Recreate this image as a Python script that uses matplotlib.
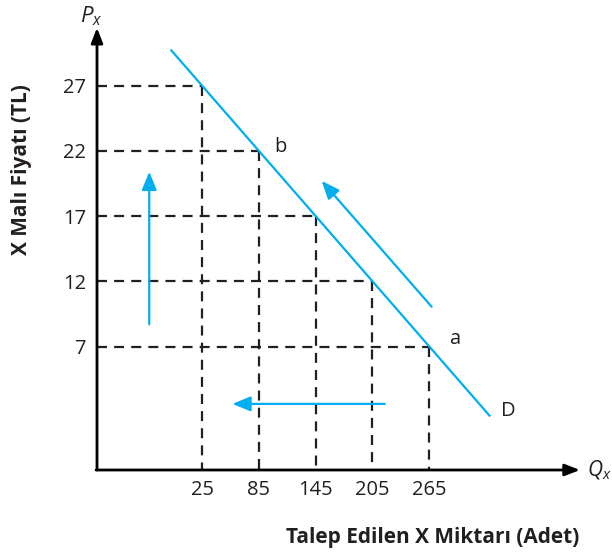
import matplotlib
matplotlib.use("Agg")
import matplotlib.pyplot as plt

# demand schedule
quantities = [25, 85, 145, 205, 265]
prices = [27, 22, 17, 12, 7]
point_names = {85: "b", 265: "a"}

# demand line ends (price levels)
d_price_top = 29.7
d_price_bottom = 1.7

# movement arrows: (tail, head) in (Q, P)
arrow_up = ((-30.8, 8.7), (-30.8, 20.4))
arrow_left = ((218.0, 2.6), (57.0, 2.6))
arrow_along = ((267.5, 10.05), (151.3, 19.7))

BLUE = "#00aeef"
DARK = "#231f20"

plt.rcParams['font.family'] = ['Open Sans', 'DejaVu Sans']
plt.rcParams['mathtext.fontset'] = 'custom'
plt.rcParams['mathtext.it'] = 'Open Sans:italic'
plt.rcParams['mathtext.rm'] = 'Open Sans'


def demand_q(p):
    # straight line through the schedule points
    return quantities[0] + (prices[0] - p) * (quantities[1] - quantities[0]) / (prices[0] - prices[1])


fig = plt.figure(figsize=(6.12, 5.6), dpi=100)
ax = fig.add_axes([97 / 612, 90 / 560, 483 / 612, 440 / 560])
ax.set_xlim(-86, 424.2)
ax.set_ylim(-2.47, 31.27)
for s in ax.spines.values():
    s.set_visible(False)

# axes with arrow heads
ax.annotate("", xy=(0, 1.005), xytext=(0, 0), xycoords='axes fraction',
            arrowprops=dict(arrowstyle='-|>,head_length=0.9,head_width=0.35',
                            color='black', lw=2, shrinkA=0, shrinkB=0))
ax.annotate("", xy=(1.0, 0), xytext=(-0.002, 0), xycoords='axes fraction',
            arrowprops=dict(arrowstyle='-|>,head_length=0.9,head_width=0.35',
                            color='black', lw=2, shrinkA=0, shrinkB=0))

# guide lines from each point to both axes
x0, x1 = ax.get_xlim()
y0, y1 = ax.get_ylim()
for q, p in zip(quantities, prices):
    ax.plot([x0, q], [p, p], color=DARK, lw=1.6, ls=(0, (4.5, 3.2)))
    ax.plot([q, q], [p, y0], color=DARK, lw=1.6, ls=(0, (4.5, 3.2)))

# demand curve
ax.plot([demand_q(d_price_top), demand_q(d_price_bottom)],
        [d_price_top, d_price_bottom], color=BLUE, lw=1.6)

for q, p in zip(quantities, prices):
    if q in point_names:
        off = (15, 4) if point_names[q] == "b" else (20, 8)
        ax.annotate(point_names[q], (q, p), xytext=off, textcoords='offset pixels',
                    fontsize=14.5, ha='left', va='center', color=DARK)
ax.annotate("D", (demand_q(d_price_bottom), d_price_bottom), xytext=(12, 5),
            textcoords='offset pixels', fontsize=14.5, ha='left', va='center', color=DARK)

for tail, head in (arrow_up, arrow_left, arrow_along):
    ax.annotate("", xy=head, xytext=tail,
                arrowprops=dict(arrowstyle='-|>,head_length=1.1,head_width=0.45',
                                color=BLUE, lw=1.6, shrinkA=0, shrinkB=0))

ax.set_xticks(quantities)
ax.set_yticks(prices)
ax.tick_params(axis='x', length=0, pad=7, labelsize=14.5, labelcolor=DARK)
ax.tick_params(axis='y', length=0, pad=8, labelsize=14.5, labelcolor=DARK)

fig.text(80 / 612, 1 - 16 / 560, "$P_x$", fontsize=16, ha='left', va='center', color=DARK)
fig.text(587 / 612, 1 - 470 / 560, "$Q_x$", fontsize=15, ha='left', va='center', color=DARK)

fig.text(22 / 612, 1 - 170 / 560, "X Malı Fiyatı (TL)", rotation=90, fontsize=15,
         fontweight='bold', ha='center', va='center', color=DARK)
fig.text(433 / 612, 1 - 538 / 560, "Talep Edilen X Miktarı (Adet)", fontsize=15,
         fontweight='bold', ha='center', va='center', color=DARK)

fig.savefig("out.png", dpi=100)
